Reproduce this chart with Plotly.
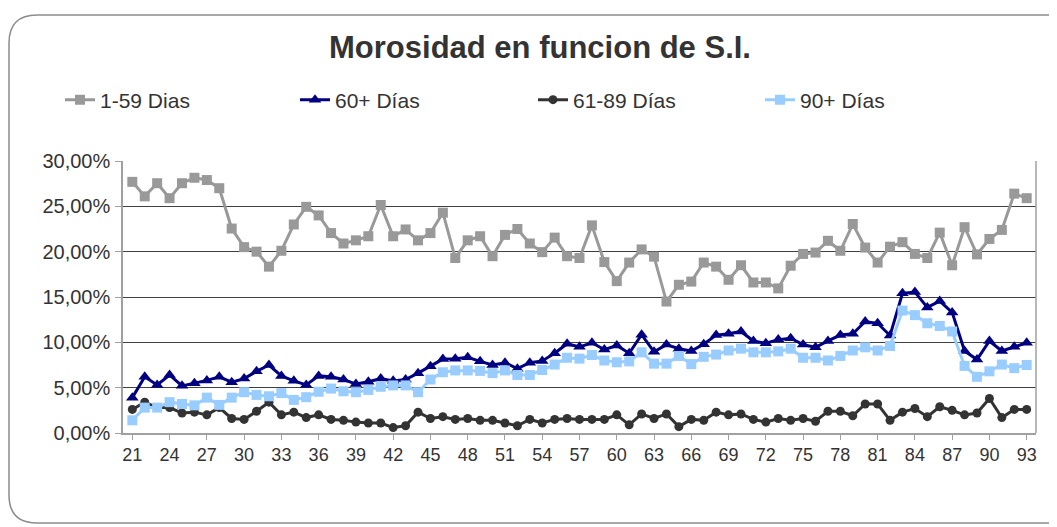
import plotly.graph_objects as go

x_vals = list(range(21, 94))

dias_1_59 = [27.7, 26.1, 27.55, 25.9, 27.55, 28.15, 27.9, 27.0, 22.55, 20.5,
             20.0, 18.35, 20.1, 23.0, 24.95, 24.0, 22.05, 20.9, 21.25, 21.7,
             25.15, 21.7, 22.45, 21.25, 22.05, 24.3, 19.3, 21.25, 21.7, 19.5,
             21.85, 22.5, 20.9, 19.95, 21.55, 19.5, 19.3, 22.9, 18.85, 16.75,
             18.8, 20.25, 19.45, 14.5, 16.35, 16.7, 18.8, 18.35, 16.9, 18.5,
             16.6, 16.6, 15.95, 18.45, 19.75, 19.9, 21.2, 20.1, 23.05, 20.45,
             18.8, 20.55, 21.05, 19.75, 19.3, 22.1, 18.5, 22.7, 19.7, 21.4,
             22.4, 26.4, 25.9]

dias_60_mas = [3.9, 6.2, 5.3, 6.4, 5.2, 5.5, 5.8, 6.2, 5.6, 6.0,
               6.8, 7.5, 6.3, 5.75, 5.3, 6.3, 6.2, 5.9, 5.4, 5.65,
               6.0, 5.75, 5.9, 6.6, 7.35, 8.15, 8.2, 8.35, 7.9, 7.5,
               7.75, 7.1, 7.75, 7.95, 8.8, 9.85, 9.5, 9.95, 9.2, 9.65,
               8.8, 10.85, 8.95, 9.75, 9.3, 9.05, 9.8, 10.8, 10.95, 11.2,
               10.15, 9.9, 10.3, 10.45, 9.75, 9.45, 10.15, 10.8, 10.95, 12.3,
               12.1, 10.75, 15.4, 15.55, 13.85, 14.55, 13.3, 9.05, 8.1, 10.15,
               9.05, 9.5, 9.95]

dias_61_89 = [2.6, 3.4, 2.8, 2.8, 2.2, 2.3, 2.0, 2.8, 1.6, 1.5,
              2.4, 3.4, 2.0, 2.3, 1.7, 2.0, 1.5, 1.4, 1.2, 1.1,
              1.1, 0.6, 0.8, 2.3, 1.6, 1.8, 1.5, 1.6, 1.4, 1.4,
              1.1, 0.8, 1.5, 1.1, 1.5, 1.6, 1.5, 1.5, 1.5, 2.0,
              0.9, 2.1, 1.6, 2.1, 0.7, 1.5, 1.4, 2.3, 2.0, 2.1,
              1.5, 1.2, 1.6, 1.4, 1.6, 1.3, 2.4, 2.4, 1.9, 3.2,
              3.2, 1.4, 2.3, 2.7, 1.8, 2.9, 2.5, 2.0, 2.2, 3.8,
              1.7, 2.6, 2.6]

dias_90_mas = [1.4, 2.8, 2.8, 3.4, 3.2, 3.05, 3.9, 3.1, 3.9, 4.5,
               4.2, 4.05, 4.4, 3.65, 3.95, 4.55, 4.9, 4.6, 4.5, 4.75,
               5.1, 5.25, 5.25, 4.5, 5.9, 6.7, 6.9, 6.9, 6.85, 6.6,
               6.9, 6.4, 6.4, 6.95, 7.55, 8.3, 8.2, 8.6, 8.0, 7.8,
               7.9, 8.9, 7.65, 7.65, 8.5, 7.6, 8.4, 8.65, 9.1, 9.3,
               8.9, 8.9, 9.0, 9.3, 8.3, 8.3, 8.0, 8.5, 9.1, 9.45,
               9.1, 9.6, 13.5, 13.0, 12.1, 11.8, 11.2, 7.4, 6.2, 6.8,
               7.55, 7.15, 7.5]

series_names = ["1-59 Dias", "60+ Días", "61-89 Días", "90+ Días"]
y_tick_vals = [0, 5, 10, 15, 20, 25, 30]
y_tick_text = ["0,00%", "5,00%", "10,00%", "15,00%", "20,00%", "25,00%", "30,00%"]
x_tick_vals = list(range(21, 94, 3))
title_text = "Morosidad en funcion de S.I."

FONT = "Arial, Liberation Sans, sans-serif"
W, H = 1057, 527
L, R, T, B = 115, 1028, 153, 425


def px(xp):
    return (xp - L) / (R - L)


def py(yp):
    return (B - yp) / (B - T)


styles = [
    dict(color="#999999", symbol="square", size=10),
    dict(color="#000080", symbol="triangle-up", size=11),
    dict(color="#333333", symbol="circle", size=9),
    dict(color="#99CCFF", symbol="square", size=10),
]
data = [dias_1_59, dias_60_mas, dias_61_89, dias_90_mas]
legend_ids = ["legend", "legend2", "legend3", "legend4"]
legend_left_px = [52, 287, 525, 752]

fig = go.Figure()
for name, ys, st, lid in zip(series_names, data, styles, legend_ids):
    fig.add_trace(go.Scatter(
        x=x_vals, y=ys, name=name, mode="lines+markers", legend=lid,
        line=dict(color=st["color"], width=3),
        marker=dict(color=st["color"], symbol=st["symbol"], size=st["size"],
                    line=dict(width=0)),
    ))

# card border with rounded corners (pixel coords -> paper)
x0, y0, x1, y1, r = 1, 7, 1070, 515, 28
path = (f"M {px(x0)},{py(y0 + r)} "
        f"Q {px(x0)},{py(y0)} {px(x0 + r)},{py(y0)} "
        f"L {px(x1)},{py(y0)} "
        f"L {px(x1)},{py(y1)} "
        f"L {px(x0 + r)},{py(y1)} "
        f"Q {px(x0)},{py(y1)} {px(x0)},{py(y1 - r)} Z")

legend_layouts = {}
for lid, lx in zip(legend_ids, legend_left_px):
    legend_layouts[lid] = dict(
        orientation="h", x=px(lx), xanchor="left", y=py(92), yanchor="middle",
        font=dict(family=FONT, size=21, color="#333333"),
        itemwidth=30, bgcolor="rgba(0,0,0,0)")

fig.update_layout(
    width=W, height=H,
    paper_bgcolor="white", plot_bgcolor="white",
    margin=dict(l=L, r=W - R, t=T, b=H - B, pad=0, autoexpand=False),
    font=dict(family=FONT, size=16, color="#333333"),
    title=dict(text=f"<b>{title_text}</b>", x=532 / W, xref="container",
               xanchor="center", y=1 - 39 / H, yanchor="middle",
               font=dict(family=FONT, size=31, color="#333333")),
    showlegend=True,
    shapes=[dict(type="path", path=path, xref="paper", yref="paper",
                 line=dict(color="#8c8c8c", width=1.5), layer="below"),
            dict(type="line", xref="paper", yref="paper", x0=1, x1=1, y0=0, y1=1,
                 line=dict(color="#a0a0a0", width=1.5))],
    **legend_layouts,
)

fig.update_xaxes(
    range=[20.25, 93.75], tickvals=x_tick_vals, showgrid=False, automargin=False,
    showline=True, linecolor="#a0a0a0", linewidth=1.5,
    ticks="outside", ticklen=5, tickcolor="#a0a0a0",
    tickfont=dict(family=FONT, size=18, color="#333333"), zeroline=False,
)
fig.update_yaxes(
    range=[0, 30], tickvals=y_tick_vals, ticktext=y_tick_text, automargin=False,
    showgrid=True, gridcolor="#404040", gridwidth=1,
    showline=True, linecolor="#a0a0a0", linewidth=1.5,
    ticks="outside", ticklen=6, tickcolor="#a0a0a0", ticklabelstandoff=1,
    tickfont=dict(family=FONT, size=20, color="#333333"), zeroline=False,
)

fig.write_html("out.html")
